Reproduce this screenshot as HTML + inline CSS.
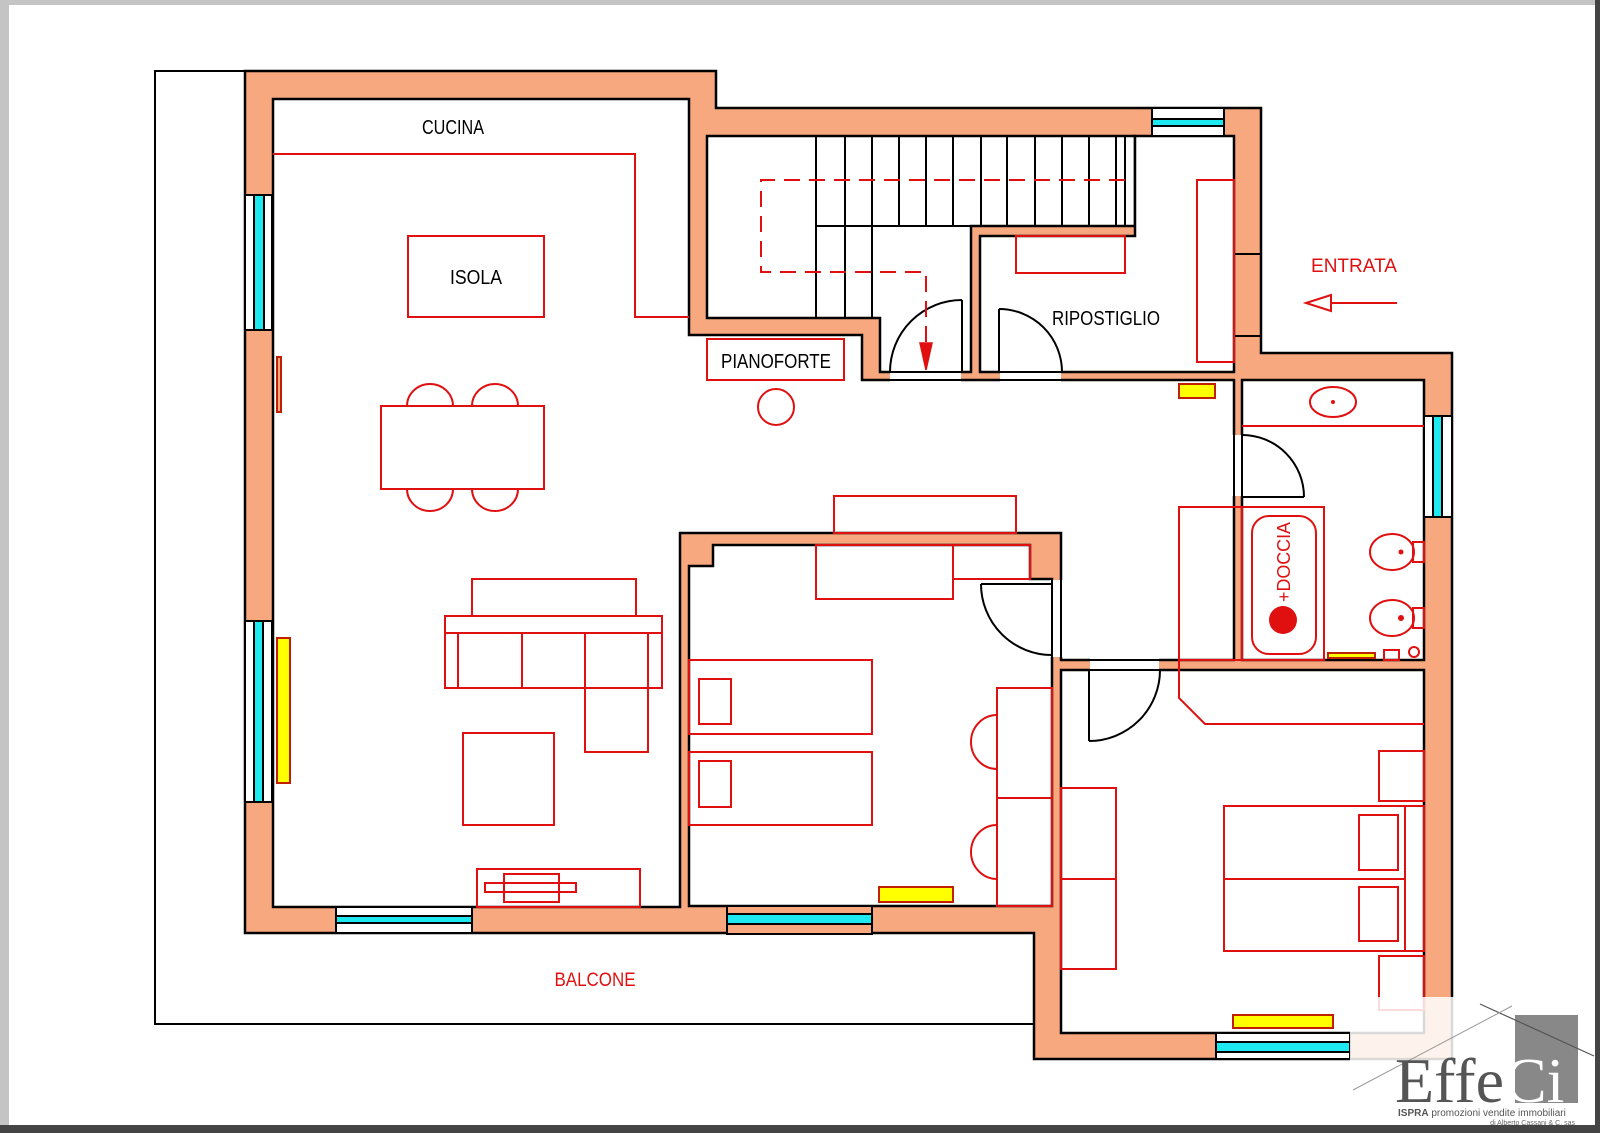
<!DOCTYPE html>
<html><head><meta charset="utf-8"><style>
html,body{margin:0;padding:0;background:#fff;}
svg{display:block;}
text{font-family:"Liberation Sans",sans-serif;}
text.serif{font-family:"Liberation Serif",serif;}
</style></head><body>
<svg width="1600" height="1133" viewBox="0 0 1600 1133" xmlns="http://www.w3.org/2000/svg">
<rect x="0" y="0" width="1600" height="1133" fill="#fff"/>
<rect x="0" y="0" width="1600" height="5" fill="#c4c4c4"/>
<rect x="0" y="0" width="9" height="1133" fill="#c4c4c4"/>
<rect x="1595" y="0" width="5" height="1133" fill="#444"/>
<rect x="0" y="1125" width="1600" height="8" fill="#444"/>

<!-- balcony outline -->
<polyline points="245,71 155,71 155,1024 1034,1024" fill="none" stroke="#000" stroke-width="2"/>

<g stroke="#000" stroke-width="2.5">
<polygon points="245,71 716,71 716,108 1261,108 1261,353 1452,353 1452,1059 1034,1059 1034,933 245,933" fill="#F8A87E"/>
<polygon points="273,99 689,99 689,335 862,335 862,380 1234,380 1234,660 1061,660 1061,533 680,533 680,907 273,907" fill="#fff"/>
<polygon points="713,545 1030,545 1030,579 1052,579 1052,906 689,906 689,566 713,566" fill="#fff"/>
<polygon points="1061,670 1424,670 1424,1033 1061,1033" fill="#fff"/>
<polygon points="1242,380 1424,380 1424,660 1242,660" fill="#fff"/>
<polygon points="707,136 1135,136 1135,226 971,226 971,372 880,372 880,318 707,318" fill="#fff"/>
<polygon points="980,236 1135,236 1135,136 1234,136 1234,372 980,372" fill="#fff"/>
</g>
<line x1="1234" y1="254" x2="1261" y2="254" stroke="#000" stroke-width="2"/>
<line x1="1234" y1="336" x2="1261" y2="336" stroke="#000" stroke-width="2"/>

<g fill="#fff" stroke="none">
<rect x="890" y="370" width="71" height="12"/>
<rect x="1000" y="370" width="61" height="12"/>
<rect x="1232" y="435" width="12" height="61"/>
<rect x="1090" y="658" width="69" height="14"/>
<rect x="1050" y="580" width="13" height="77"/>
</g>
<g stroke="#000" stroke-width="2" fill="none">
<line x1="889" y1="372" x2="962" y2="372"/><line x1="889" y1="380" x2="962" y2="380"/>
<line x1="999" y1="372" x2="1062" y2="372"/><line x1="999" y1="380" x2="1062" y2="380"/>
<line x1="1234" y1="434" x2="1234" y2="497"/><line x1="1242" y1="434" x2="1242" y2="497"/>
<line x1="1089" y1="660" x2="1160" y2="660"/><line x1="1089" y1="670" x2="1160" y2="670"/>
<line x1="1052" y1="579" x2="1052" y2="658"/><line x1="1061" y1="579" x2="1061" y2="658"/>
<line x1="962" y1="372" x2="962" y2="300"/><path d="M962,300 A72,72 0 0 0 890,372"/>
<line x1="999" y1="372" x2="999" y2="309"/><path d="M999,309 A63,63 0 0 1 1062,372"/>
<line x1="1242" y1="497" x2="1304" y2="497"/><path d="M1242,435 A62,62 0 0 1 1304,497"/>
<line x1="1089" y1="670" x2="1089" y2="741"/><path d="M1089,741 A71,71 0 0 0 1160,670"/>
<line x1="1052" y1="584" x2="981" y2="584"/><path d="M981,584 A71,71 0 0 0 1052,655"/>
</g>

<g stroke="#000" stroke-width="2">
<rect x="245" y="195" width="27" height="135" fill="#fff"/><rect x="254" y="195" width="10" height="135" fill="#1EE8F0"/>
<rect x="245" y="621" width="27" height="181" fill="#fff"/><rect x="254" y="621" width="9" height="181" fill="#1EE8F0"/>
<rect x="336" y="907" width="136" height="26" fill="#fff"/><rect x="336" y="916" width="136" height="7" fill="#1EE8F0"/>
<rect x="727" y="906" width="145" height="28" fill="#F8A87E"/><rect x="727" y="914" width="145" height="10" fill="#1EE8F0"/>
<rect x="1152" y="108" width="72" height="28" fill="#fff"/><rect x="1152" y="119" width="72" height="7" fill="#1EE8F0"/>
<rect x="1424" y="416" width="28" height="101" fill="#fff"/><rect x="1433" y="416" width="9" height="101" fill="#1EE8F0"/>
<rect x="1216" y="1033" width="134" height="26" fill="#fff"/><rect x="1216" y="1042" width="134" height="10" fill="#1EE8F0"/>
</g>

<g stroke="#000" stroke-width="2">
<line x1="816" y1="136" x2="816" y2="318"/><line x1="845" y1="136" x2="845" y2="318"/><line x1="872" y1="136" x2="872" y2="318"/>
<line x1="899" y1="136" x2="899" y2="226"/><line x1="926" y1="136" x2="926" y2="226"/><line x1="953" y1="136" x2="953" y2="226"/>
<line x1="981" y1="136" x2="981" y2="226"/><line x1="1007" y1="136" x2="1007" y2="226"/><line x1="1035" y1="136" x2="1035" y2="226"/>
<line x1="1062" y1="136" x2="1062" y2="226"/><line x1="1089" y1="136" x2="1089" y2="226"/><line x1="1116" y1="136" x2="1116" y2="226"/>
<line x1="1125" y1="136" x2="1125" y2="226"/><line x1="816" y1="226" x2="971" y2="226"/>
</g>
<polyline points="1125,180 761,180 761,272 926,272 926,345" fill="none" stroke="#E01010" stroke-width="2" stroke-dasharray="16,9"/>
<polygon points="920,343 932,343 926,370" fill="#E01010" stroke="#E01010" stroke-width="1.5"/>

<g fill="none" stroke="#E01010" stroke-width="2">
<polyline points="273,154 635,154 635,317 689,317"/>
<rect x="408" y="236" width="136" height="81"/>
<rect x="381" y="406" width="163" height="83"/>
<path d="M407,406 A23,22 0 0 1 453,406"/><path d="M472,406 A23,22 0 0 1 518,406"/>
<path d="M407,489 A23,22 0 0 0 453,489"/><path d="M472,489 A23,22 0 0 0 518,489"/>
<rect x="707" y="339" width="137" height="41"/>
<circle cx="776" cy="407" r="18"/>
<rect x="472" y="579" width="164" height="37"/>
<rect x="445" y="616" width="217" height="72"/>
<line x1="445" y1="633" x2="662" y2="633"/>
<line x1="458" y1="633" x2="458" y2="688"/><line x1="522" y1="633" x2="522" y2="688"/>
<line x1="585" y1="633" x2="585" y2="688"/><line x1="648" y1="633" x2="648" y2="688"/>
<rect x="585" y="688" width="63" height="64"/>
<rect x="463" y="733" width="91" height="92"/>
<rect x="477" y="869" width="163" height="38"/>
<rect x="485" y="883" width="91" height="9"/>
<rect x="504" y="874" width="55" height="28"/>
<rect x="834" y="496" width="182" height="37"/>
<rect x="816" y="545" width="137" height="54"/>
<rect x="953" y="545" width="77" height="34"/>
<rect x="689" y="660" width="183" height="74"/><rect x="699" y="679" width="32" height="45"/>
<rect x="689" y="752" width="183" height="73"/><rect x="699" y="761" width="32" height="46"/>
<rect x="997" y="688" width="55" height="218"/><line x1="997" y1="798" x2="1052" y2="798"/>
<path d="M997,715 A26,27 0 0 0 997,769"/><path d="M997,825 A26,27 0 0 0 997,879"/>
<rect x="1016" y="236" width="109" height="37"/>
<rect x="1197" y="180" width="37" height="182"/>
<polyline points="1331,303 1397,303"/>
<polygon points="1306,303 1331,295 1331,311"/>
<rect x="1179" y="507" width="63" height="153"/>
<rect x="1242" y="507" width="82" height="153"/>
<rect x="1252" y="516" width="64" height="138" rx="17"/>
<line x1="1242" y1="426" x2="1424" y2="426"/>
<ellipse cx="1333" cy="402" rx="23" ry="15"/>
<ellipse cx="1392" cy="552" rx="22" ry="18"/><rect x="1413" y="542" width="11" height="20"/>
<ellipse cx="1392" cy="618" rx="22" ry="18"/><rect x="1413" y="608" width="11" height="20"/>
<rect x="1384" y="650" width="15" height="10"/><circle cx="1414" cy="652" r="5"/>
<polyline points="1179,660 1179,698 1205,724 1424,724"/>
<rect x="1061" y="788" width="55" height="181"/><line x1="1061" y1="879" x2="1116" y2="879"/>
<rect x="1224" y="806" width="200" height="145"/><line x1="1224" y1="879" x2="1405" y2="879"/><line x1="1405" y1="806" x2="1405" y2="951"/>
<rect x="1359" y="815" width="39" height="55"/><rect x="1359" y="887" width="39" height="54"/>
<rect x="1379" y="751" width="45" height="50"/><rect x="1379" y="956" width="45" height="54"/>
</g>
<g fill="#E01010"><circle cx="1333" cy="402" r="2"/><circle cx="1401" cy="552" r="2.5"/><circle cx="1401" cy="618" r="3"/><circle cx="1283" cy="620" r="14"/></g>
<g fill="#FFFF00" stroke="#C02000" stroke-width="2">
<rect x="277" y="357" width="4" height="55" fill="#F8A87E"/>
<rect x="277" y="638" width="13" height="145"/>
<rect x="879" y="887" width="74" height="15"/>
<rect x="1179" y="384" width="36" height="14"/>
<rect x="1328" y="653" width="47" height="5"/>
<rect x="1233" y="1015" width="100" height="13"/>
</g>

<g font-size="20" fill="#000" text-anchor="middle">
<text x="453" y="134" textLength="62" lengthAdjust="spacingAndGlyphs">CUCINA</text>
<text x="476" y="284" textLength="52" lengthAdjust="spacingAndGlyphs">ISOLA</text>
<text x="776" y="368" textLength="110" lengthAdjust="spacingAndGlyphs">PIANOFORTE</text>
<text x="1106" y="325" textLength="108" lengthAdjust="spacingAndGlyphs">RIPOSTIGLIO</text>
</g>
<g font-size="19" fill="#E01010" text-anchor="middle">
<text x="1354" y="272" textLength="86" lengthAdjust="spacingAndGlyphs">ENTRATA</text>
<text x="595" y="986" textLength="81" lengthAdjust="spacingAndGlyphs">BALCONE</text>
<text x="0" y="0" font-size="18" transform="translate(1290,562) rotate(-90)" textLength="80" lengthAdjust="spacingAndGlyphs">+DOCCIA</text>
</g>

<rect x="1350" y="997" width="245" height="128" fill="#fff" fill-opacity="0.85"/>
<rect x="1515" y="1015" width="63" height="88" fill="#888"/>
<line x1="1480" y1="1004" x2="1594" y2="1056" stroke="#555" stroke-width="1.2"/>
<line x1="1353" y1="1090" x2="1512" y2="1006" stroke="#999" stroke-width="1"/>
<text class="serif" x="1395" y="1102" font-size="64" fill="#555">Effe<tspan fill="#fff">Ci</tspan></text>
<text x="1398" y="1116" font-size="10" fill="#555"><tspan font-weight="bold">ISPRA</tspan> promozioni vendite immobiliari</text>
<text x="1575" y="1125" font-size="7" fill="#666" text-anchor="end">di Alberto Cassani &amp; C. sas</text>
</svg>
</body></html>
